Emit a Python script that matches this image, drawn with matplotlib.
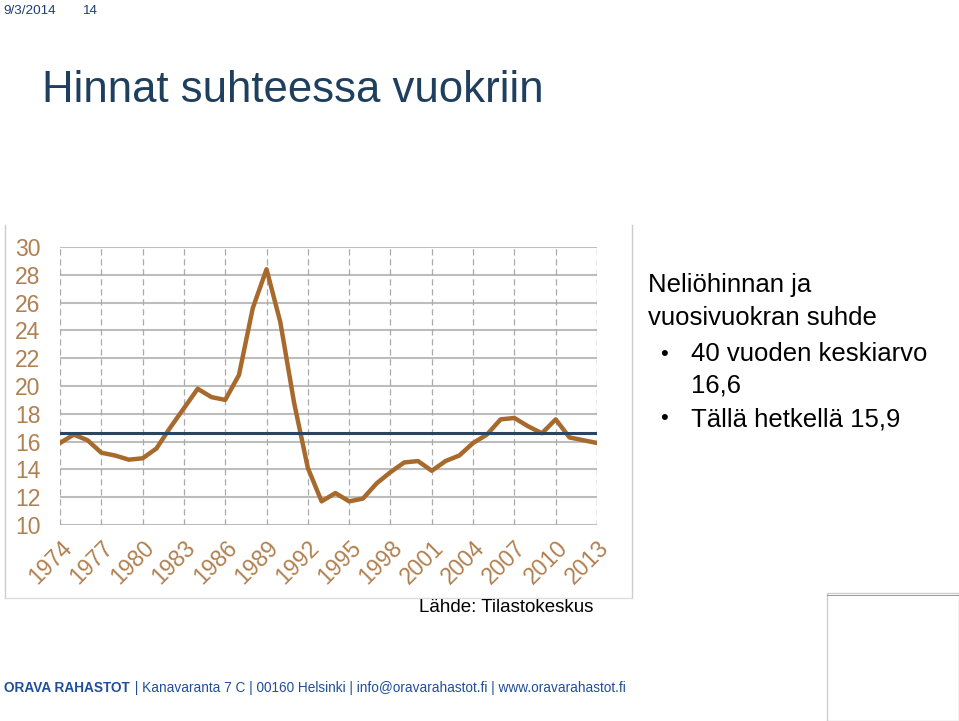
import matplotlib
matplotlib.use("Agg")
import matplotlib.pyplot as plt
from matplotlib.patches import Rectangle

plt.rcParams["font.family"] = "Liberation Sans"

years = list(range(1974, 2014))
ratio = [15.9, 16.5, 16.1, 15.2, 15.0, 14.7, 14.8, 15.5, 17.0, 18.4,
         19.8, 19.2, 19.0, 20.8, 25.6, 28.4, 24.6, 18.8, 14.1, 11.7,
         12.3, 11.7, 11.9, 13.0, 13.8, 14.5, 14.6, 13.9, 14.6, 15.0,
         15.9, 16.5, 17.6, 17.7, 17.1, 16.6, 17.6, 16.3, 16.1, 15.9]
mean_value = 16.6
xticks = list(range(1974, 2014, 3))
yticks = list(range(10, 31, 2))

W, H = 959, 721
fig = plt.figure(figsize=(W/100, H/100), dpi=100)
fig.patch.set_facecolor("white")

def fx(px): return px / W
def fy(py): return 1 - py / H

# header
fig.text(fx(3), fy(11), "9/3/2014", fontsize=9.7, color="#1F3F73", va="center")
fig.text(fx(82), fy(11), "14", fontsize=9.7, color="#1F3F73", va="center")
fig.text(fx(42), fy(90), "Hinnat suhteessa vuokriin", fontsize=31.5, color="#1F3F5F", va="center")

# chart frame lines
fig.add_artist(plt.Line2D([fx(5), fx(5)], [fy(225), fy(598)], color="#cccccc", lw=1))
fig.add_artist(plt.Line2D([fx(632), fx(632)], [fy(225), fy(598)], color="#cccccc", lw=1))
fig.add_artist(plt.Line2D([fx(5), fx(632)], [fy(598), fy(598)], color="#dddddd", lw=1))

ax = fig.add_axes([fx(60), fy(525), fx(597) - fx(60), fy(247) - fy(525)])
ax.set_xlim(1974, 2013)
ax.set_ylim(10, 30)
for y in yticks:
    ax.axhline(y, color="#bdbdbd", lw=1.5, zorder=1)
for x in xticks:
    ax.axvline(x, color="#aaaaaa", lw=0.9, ls=(0, (5, 3)), zorder=1)
ax.axvline(2013, color="#aaaaaa", lw=0.9, ls=(0, (5, 3)), zorder=1)
ax.plot(years, ratio, color="#A86A2C", lw=3.2, zorder=3, solid_joinstyle="round")
ax.axhline(mean_value, color="#2B4561", lw=2.2, zorder=4)
ax.set_xticks(xticks)
ax.set_xticklabels([str(x) for x in xticks], rotation=45, ha="right", rotation_mode="anchor")
ax.set_yticks(yticks)
ax.tick_params(axis="y", labelsize=16.5, length=0, pad=14)
ax.tick_params(axis="x", labelsize=16.5, length=0, pad=8)
for lab in ax.get_xticklabels() + ax.get_yticklabels():
    lab.set_color("#B08050")
for s in ax.spines.values():
    s.set_visible(False)

# right text
fs = 18.5
fig.text(fx(648), fy(285), "Neliöhinnan ja", fontsize=fs, color="black", va="center")
fig.text(fx(648), fy(318), "vuosivuokran suhde", fontsize=fs, color="black", va="center")
fig.text(fx(660), fy(354), "•", fontsize=16, color="black", va="center")
fig.text(fx(691), fy(354), "40 vuoden keskiarvo", fontsize=fs, color="black", va="center")
fig.text(fx(691), fy(385), "16,6", fontsize=fs, color="black", va="center")
fig.text(fx(660), fy(419), "•", fontsize=16, color="black", va="center")
fig.text(fx(691), fy(419), "Tällä hetkellä 15,9", fontsize=fs, color="black", va="center")

fig.text(fx(419), fy(607), "Lähde: Tilastokeskus", fontsize=13.5, color="black", va="center")

# small box bottom right
fig.add_artist(Rectangle((fx(827), fy(721)), fx(959) - fx(827), fy(593) - fy(721),
                         fill=False, ec="#cccccc", lw=1))
fig.add_artist(plt.Line2D([fx(827), fx(959)], [fy(595), fy(595)], color="#888888", lw=0.6))

# footer
fig.text(fx(4), fy(688), "ORAVA RAHASTOT", fontsize=9.8, color="#1F4E9A", fontweight="bold", va="center")
fig.text(fx(131), fy(688), " | Kanavaranta 7 C | 00160 Helsinki | info@oravarahastot.fi | www.oravarahastot.fi",
         fontsize=9.8, color="#1F4E9A", va="center")

fig.savefig("out.png", dpi=100)
